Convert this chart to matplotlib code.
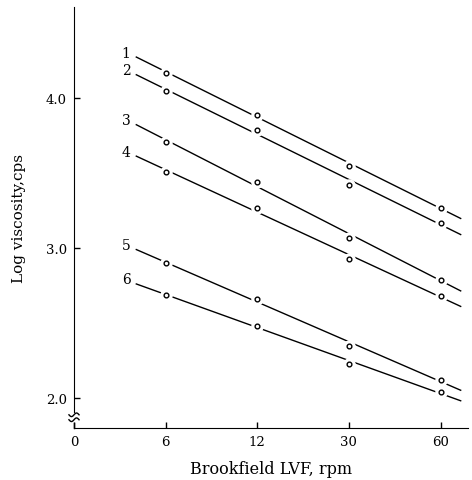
import numpy as np
import matplotlib
matplotlib.use("Agg")
import matplotlib.pyplot as plt

# rpm readings, drawn at equal spacing like the original chart
rpm_labels = ["0", "6", "12", "30", "60"]
rpm = [6, 12, 30, 60]

# log viscosity (cps), one list per curve
curve_names = ["1", "2", "3", "4", "5", "6"]
log_visc_1 = [4.17, 3.89, 3.55, 3.27]
log_visc_2 = [4.05, 3.79, 3.42, 3.17]
log_visc_3 = [3.71, 3.44, 3.07, 2.79]
log_visc_4 = [3.51, 3.27, 2.93, 2.68]
log_visc_5 = [2.90, 2.66, 2.35, 2.12]
log_visc_6 = [2.69, 2.48, 2.23, 2.04]
curves = [log_visc_1, log_visc_2, log_visc_3, log_visc_4, log_visc_5, log_visc_6]

y_ticks = [2.0, 3.0, 4.0]

plt.rcParams['font.family'] = ['DejaVu Serif']

W, H = 472, 481
fig = plt.figure(figsize=(W / 100, H / 100), dpi=100)
ax = fig.add_axes([74 / W, 1 - 429 / H, (468 - 74) / W, (429 - 8) / H])

xpos = np.arange(1, len(rpm) + 1)
x0, x1 = 0.68, 4.22

for name, vals in zip(curve_names, curves):
    k, b = np.polyfit(xpos, vals, 1)
    xs = np.array([x0, x1])
    ax.plot(xs, k * xs + b, color='black', lw=1.0, zorder=1)
    # white halo breaks the line around each point
    ax.plot(xpos, vals, ls='none', marker='o', ms=8, mfc='white', mec='white', zorder=2)
    ax.plot(xpos, vals, ls='none', marker='o', ms=3.4, mfc='white', mec='black', mew=1.0, zorder=3)
    ax.text(x0 - 0.11, k * x0 + b + 0.03, name, ha='center', va='center', fontsize=10)

ax.set_xlim(0, 4.30)
ax.set_ylim(1.80, 4.607)
ax.set_xticks(range(len(rpm_labels)))
ax.set_xticklabels(rpm_labels)
ax.set_yticks(y_ticks)
ax.set_yticklabels(["%.1f" % v for v in y_ticks])
ax.tick_params(direction='in', length=4, width=1, labelsize=9.5, pad=5)

ax.spines['top'].set_visible(False)
ax.spines['right'].set_visible(False)
ax.spines['left'].set_bounds(1.91, 4.607)

# axis break on the y axis: short stub and two wavy strokes
ax.plot([0, 0], [1.80, 1.835], color='black', lw=1.0, clip_on=False)
t = np.linspace(-1, 1, 30)
for yc in (1.855, 1.888):
    ax.plot(0.055 * t, yc + 0.012 * np.sin(np.pi * t), color='black', lw=1.0, clip_on=False)

ax.set_xlabel("Brookfield LVF, rpm", fontsize=11.5, labelpad=9)
ax.set_ylabel("Log viscosity,cps", fontsize=11, labelpad=14)

fig.savefig("out.png", dpi=100)
